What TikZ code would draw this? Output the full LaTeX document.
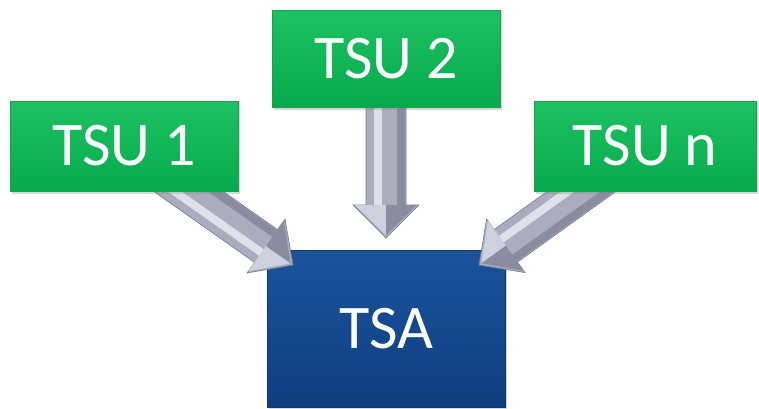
\documentclass[tikz,border=0pt]{standalone}
\usepackage{fontspec}
\setmainfont{Carlito}
\usetikzlibrary{calc,shadows,backgrounds}

\definecolor{tsutop}{RGB}{28,194,98}
\definecolor{tsumid}{RGB}{10,186,86}
\definecolor{tsubot}{RGB}{6,170,76}
\definecolor{tsuedge}{RGB}{25,160,78}
\definecolor{tsatop}{RGB}{26,84,155}
\definecolor{tsamid}{RGB}{20,76,146}
\definecolor{tsabot}{RGB}{15,62,128}
\definecolor{tsaedge}{RGB}{15,55,110}
\definecolor{blkbase}{RGB}{170,173,190}
\definecolor{blklite}{RGB}{222,224,234}
\definecolor{blkshade}{RGB}{138,141,160}
\definecolor{blkedge}{RGB}{118,121,138}

% block arrow from #1 to tip #2
\newcommand\blkarrow[2]{%
  \coordinate (hb) at ($(#2)!33pt!(#1)$);
  \filldraw[blk] ($(#1)!20pt!90:(#2)$) -- ($(hb)!20pt!-90:(#1)$) -- ($(hb)!33pt!-90:(#1)$) -- (#2)
    -- ($(hb)!33pt!90:(#1)$) -- ($(hb)!20pt!90:(#1)$) -- ($(#1)!20pt!-90:(#2)$) -- cycle;
  \fill[blklite] ($(#1)!4pt!-90:(#2)$) -- ($(#1)!12pt!-90:(#2)$) -- ($(hb)!12pt!90:(#1)$) -- ($(hb)!4pt!90:(#1)$) -- cycle;
  \fill[blkshade] ($(#1)!11pt!90:(#2)$) -- ($(#1)!19pt!90:(#2)$) -- ($(hb)!19pt!-90:(#1)$) -- ($(hb)!11pt!-90:(#1)$) -- cycle;
  \fill[blklite!70!blkbase] (hb) -- ($(hb)!31pt!90:(#1)$) -- ($(#2)!3pt!(hb)$) -- cycle;
  \fill[blkshade] (hb) -- ($(hb)!31pt!-90:(#1)$) -- ($(#2)!3pt!(hb)$) -- cycle;
}

\begin{document}
\begin{tikzpicture}[x=1pt,y=-1pt,
    box/.style={rectangle,line width=0.8pt,inner sep=0pt,text=white,
      font=\fontsize{62}{70}\selectfont,
      drop shadow={shadow xshift=1.5pt,shadow yshift=-2.5pt,opacity=0.3}},
    tsu/.style={box,draw=tsuedge,top color=tsutop,middle color=tsumid,bottom color=tsubot,
      minimum width=228pt,minimum height=90pt},
    tsa/.style={box,draw=tsaedge,top color=tsatop,middle color=tsamid,bottom color=tsabot,
      minimum width=238pt,minimum height=157pt},
    blk/.style={fill=blkbase,draw=blkedge,line width=0.6pt,line join=miter}]
  \useasboundingbox (0,0) rectangle (759,408);

  \node[tsu] (tsu1) at (124,146) {TSU 1};
  \node[tsu,minimum height=97pt] (tsu2) at (386,58.5) {TSU 2};
  \node[tsu,minimum width=222pt] (tsun) at (645,146) {TSU n};

  \coordinate (tip1) at (293,265);
  \coordinate (tip2) at (386,238);
  \coordinate (tipn) at (479,265);

  \begin{scope}[on background layer]
    \fill[white] (0,0) rectangle (759,408);
    \node[tsa] (tsa) at (386,328.5) {TSA};
    \blkarrow{tsu1.center}{tip1}
    \blkarrow{tsu2.center}{tip2}
    \blkarrow{tsun.center}{tipn}
  \end{scope}
\end{tikzpicture}
\end{document}
